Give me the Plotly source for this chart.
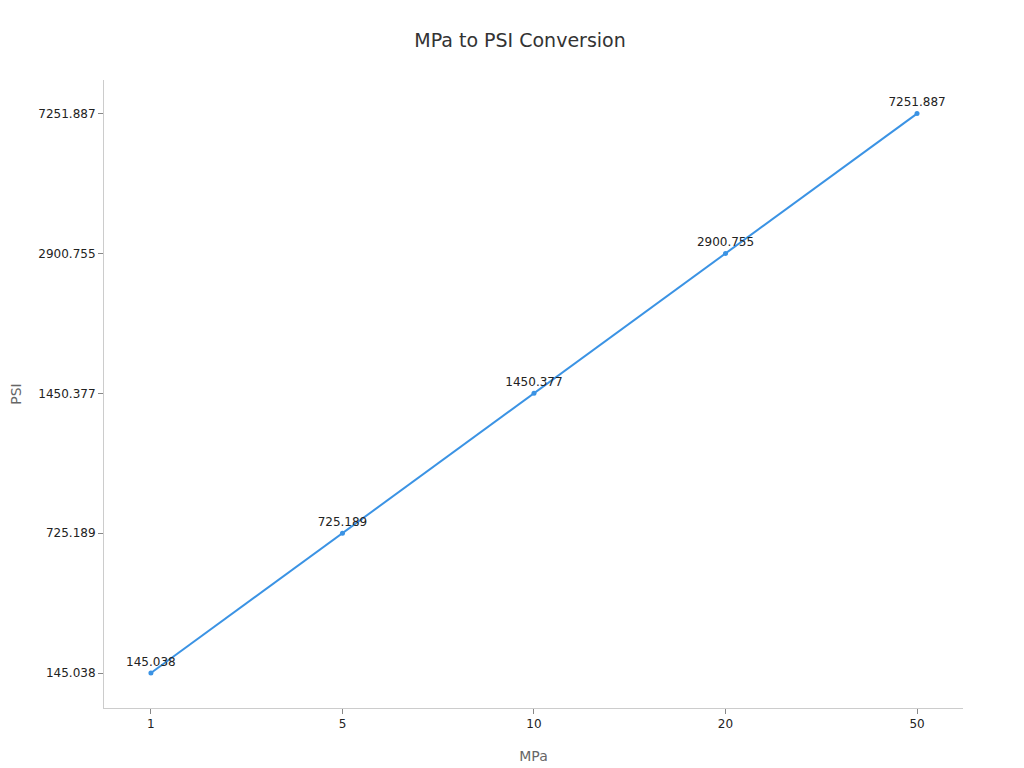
import plotly.graph_objects as go

mpa = ["1", "5", "10", "20", "50"]
psi = ["145.038", "725.189", "1450.377", "2900.755", "7251.887"]

fig = go.Figure(go.Scatter(
    x=mpa, y=psi, mode="lines+markers+text", text=psi, textposition="top center",
    line=dict(color="#3b93e4", width=2), marker=dict(size=5, color="#3b93e4"),
    textfont=dict(size=12, color="#222"), cliponaxis=False))

fig.update_layout(
    width=1024, height=768, template="none",
    font=dict(family="DejaVu Sans", color="#333"),
    title=dict(text="MPa to PSI Conversion", x=0.5, xanchor="center", y=0.966, font=dict(size=19, color="#333")),
    margin=dict(l=96, r=69, t=72, b=68),
    plot_bgcolor="white", paper_bgcolor="white", showlegend=False,
    xaxis=dict(type="category", range=[-0.245, 4.24],
               title=dict(text="MPa", font=dict(size=14, color="#666"), standoff=20),
               showgrid=False, showline=True, linecolor="#ccc", ticks="outside", tickcolor="#888",
               ticklen=5, tickfont=dict(size=12, color="#222"), zeroline=False, automargin=False),
    yaxis=dict(type="category", range=[-0.25, 4.24],
               title=dict(text="PSI", font=dict(size=14, color="#666"), standoff=22),
               showgrid=False, showline=True, linecolor="#ccc", ticks="outside", tickcolor="#888",
               ticklen=5, tickfont=dict(size=12, color="#222"), zeroline=False, automargin=False),
)
fig.write_html("out.html")
